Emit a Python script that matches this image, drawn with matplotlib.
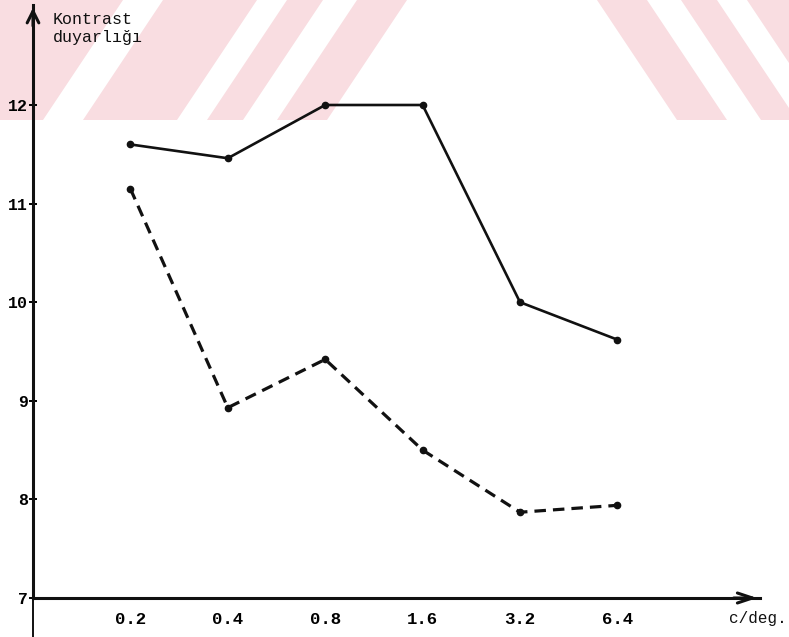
import numpy as np
import matplotlib
matplotlib.use("Agg")
import matplotlib.pyplot as plt
from matplotlib.patches import Polygon

# values
freq = [0.2, 0.4, 0.8, 1.6, 3.2, 6.4]
freq_labels = ["0.2", "0.4", "0.8", "1.6", "3.2", "6.4"]
solid = [11.60, 11.46, 12.00, 12.00, 10.00, 9.62]
dashed = [11.15, 8.93, 9.42, 8.50, 7.87, 7.94]
yticks = [7, 8, 9, 10, 11, 12]

INK = "#111111"; PINK = "#f9dde1"
plt.rcParams.update({"font.family": ["Liberation Mono", "DejaVu Sans Mono"],
                     "font.size": 12})

W, H = 789, 637
fig = plt.figure(figsize=(W/100, H/100), dpi=100)

# faint chevron watermark in the top band (pixel coords), white gaps cut out of pink
bg = fig.add_axes([0, 0, 1, 1]); bg.set_xlim(0, W); bg.set_ylim(H, 0); bg.axis("off")
band, shift, c = 120, 80, 502
bg.add_patch(Polygon([(0, 0), (W, 0), (W, band), (0, band)], color=PINK, lw=0))
for x0, x1 in [(43, 83), (177, 207), (243, 277)]:
    bg.add_patch(Polygon([(x0, band), (x1, band), (x1+shift, 0), (x0+shift, 0)], color="white", lw=0))
    bg.add_patch(Polygon([(2*c-x1, band), (2*c-x0, band), (2*c-x0-shift, 0), (2*c-x1-shift, 0)],
                         color="white", lw=0))
bg.add_patch(Polygon([(327, band), (2*c-327, band), (2*c-327-shift, 0), (327+shift, 0)],
                     color="white", lw=0))

ax = fig.add_axes([33/W, 39/H, (760-33)/W, (598-5)/H])
ax.patch.set_alpha(0)
ax.set_xscale("log", base=2)
ax.set_xlim(0.1, 0.1*2**(727/97.4)); ax.set_ylim(7, 7+593/98.6)

ax.plot(freq, solid, color=INK, lw=1.9, marker="o", ms=4.5, clip_on=False)
ax.plot(freq, dashed, color=INK, lw=2.3, ls=(0, (3.6, 2.2)), marker="o", ms=4.5,
        clip_on=False)

for s in ["top", "right"]:
    ax.spines[s].set_visible(False)
for s in ["left", "bottom"]:
    ax.spines[s].set_linewidth(2.2); ax.spines[s].set_color(INK)

ax.set_xticks(freq); ax.set_xticklabels(freq_labels)
ax.xaxis.set_minor_locator(matplotlib.ticker.NullLocator())
ax.tick_params(axis="x", length=0, pad=10, labelsize=12.5)
ax.set_yticks(yticks)
ax.tick_params(axis="y", direction="inout", length=6, width=1.4, pad=0.5, labelsize=12)
for t in ax.get_xticklabels() + ax.get_yticklabels():
    t.set_fontweight("bold")

# axis arrows and the stub below the origin
ax.annotate("", xy=(0, 1), xytext=(0, 0.96), xycoords="axes fraction",
            arrowprops=dict(arrowstyle="->,head_length=0.7,head_width=0.35", lw=2.2, color=INK))
ax.annotate("", xy=(1, 0), xytext=(0.96, 0), xycoords="axes fraction",
            arrowprops=dict(arrowstyle="->,head_length=0.9,head_width=0.3", lw=2.2, color=INK))
ax.plot([0, 0], [0, -39/593], transform=ax.transAxes, color=INK, lw=1.4, clip_on=False)

fig.text(53/W, 1-12/H, "Kontrast\nduyarlığı", ha="left", va="top", fontsize=12,
         linespacing=1.25, color=INK)
fig.text(729/W, 1-619/H, "c/deg.", ha="left", va="center", fontsize=11.5,
         color=INK)

fig.savefig("out.png", dpi=100)
